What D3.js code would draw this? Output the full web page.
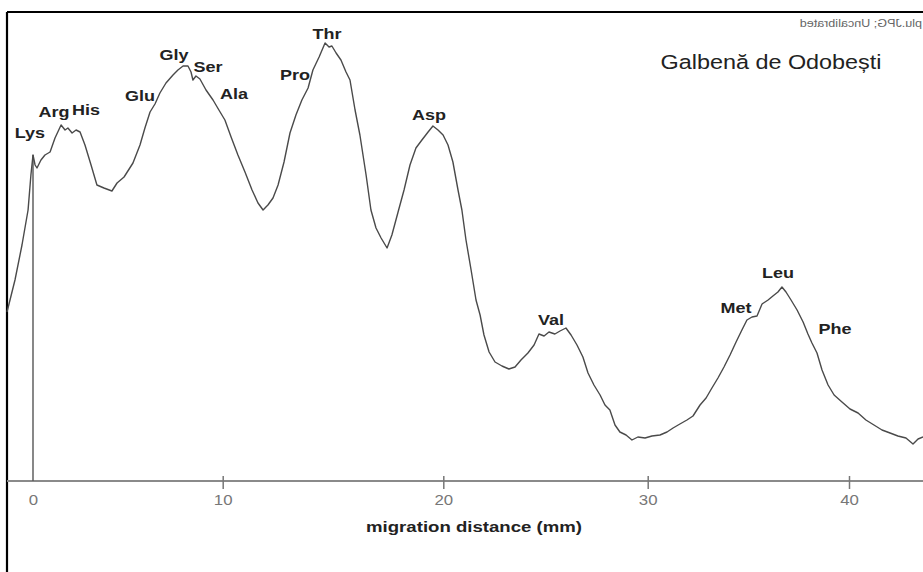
<!DOCTYPE html>
<html>
<head>
<meta charset="utf-8">
<script src="https://cdn.jsdelivr.net/npm/d3@7"></script>
<style>
body { margin: 0; background: #fff; }
svg { display: block; }
</style>
</head>
<body>
<svg class="densitogram"></svg>
<script>
// migration distance (mm) and density (arbitrary units)
var distance = [
  -1.37, -0.95, -0.58, -0.26, -0.11, 0, 0.11, 0.21, 0.42, 0.63,
  0.90, 1.16, 1.48, 1.69, 1.84, 2.06, 2.27, 2.48, 2.74, 3.06,
  3.37, 3.74, 4.16, 4.43, 4.80, 5.27, 5.64, 5.90, 6.17, 6.43,
  6.69, 7.01, 7.38, 7.64, 7.91, 8.17, 8.33, 8.43, 8.59, 8.80,
  9.12, 9.49, 9.80, 10.10, 10.38, 10.69, 11.01, 11.33, 11.60, 11.83,
  12.05, 12.28, 12.51, 12.78, 13.05, 13.32, 13.59, 13.87, 14.09, 14.37,
  14.64, 14.82, 14.95, 15.14, 15.36, 15.59, 15.77, 16.00, 16.22, 16.50,
  16.72, 16.95, 17.18, 17.45, 17.67, 17.95, 18.22, 18.49, 18.76, 19.03,
  19.31, 19.53, 19.76, 19.99, 20.23, 20.47, 20.72, 20.91, 21.11, 21.36,
  21.60, 21.80, 21.99, 22.24, 22.53, 22.87, 23.21, 23.51, 23.80, 24.14,
  24.44, 24.68, 24.93, 25.17, 25.46, 25.71, 26.00, 26.25, 26.54, 26.83,
  27.08, 27.37, 27.67, 27.91, 28.15, 28.40, 28.64, 28.94, 29.23, 29.52,
  29.87, 30.21, 30.61, 30.96, 31.26, 31.60, 31.95, 32.25, 32.60, 32.90,
  33.19, 33.49, 33.79, 34.09, 34.39, 34.68, 34.93, 35.18, 35.43, 35.68,
  35.98, 36.22, 36.47, 36.67, 36.87, 37.12, 37.42, 37.72, 37.96, 38.16,
  38.41, 38.66, 38.96, 39.26, 39.65, 40.05, 40.45, 40.84, 41.24, 41.64,
  42.04, 42.43, 42.83, 43.18, 43.43, 43.68
]
var density = [
  33.8, 40.2, 47.2, 54.2, 61.2, 65.2, 63.2, 62.6, 64.2, 65.2,
  65.8, 68.6, 71.2, 70.2, 70.6, 69.6, 70.2, 69.8, 67.2, 63.2,
  59.2, 58.6, 58.0, 59.6, 60.8, 63.6, 67.2, 70.6, 73.8, 75.4,
  77.6, 79.6, 81.2, 82.2, 83.0, 83.0, 81.8, 80.2, 81.0, 80.4,
  78.2, 76.2, 74.2, 72.2, 68.8, 65.2, 61.8, 58.2, 55.6, 54.2,
  55.2, 56.6, 59.2, 63.8, 69.6, 73.2, 76.2, 78.6, 82.2, 84.8,
  87.6, 86.8, 87.0, 85.6, 84.2, 81.8, 80.2, 74.2, 69.2, 61.2,
  54.2, 50.6, 48.6, 46.6, 49.2, 53.8, 58.2, 63.2, 66.6, 68.2,
  69.8, 71.0, 70.2, 69.2, 67.2, 63.8, 58.2, 54.2, 48.2, 42.2,
  36.2, 33.2, 29.2, 25.8, 23.8, 23.0, 22.4, 22.8, 24.2, 25.6,
  27.2, 29.4, 29.0, 29.8, 29.4, 30.0, 30.6, 29.2, 27.2, 24.8,
  21.6, 19.2, 17.2, 15.2, 14.2, 11.2, 9.8, 9.2, 8.2, 8.8,
  8.6, 9.0, 9.2, 9.8, 10.6, 11.4, 12.2, 13.0, 15.2, 16.6,
  18.6, 20.6, 22.8, 25.2, 27.8, 30.2, 32.2, 32.8, 33.0, 35.4,
  36.2, 37.0, 37.8, 38.8, 37.8, 36.2, 34.2, 31.8, 29.4, 27.6,
  25.6, 22.2, 19.2, 17.2, 15.8, 14.4, 13.6, 12.2, 11.2, 10.2,
  9.6, 9.0, 8.6, 7.4, 8.4, 8.8
]

var aminoAcids = ["Lys", "Arg", "His", "Glu", "Gly", "Ser", "Ala", "Pro", "Thr", "Asp", "Val", "Met", "Leu", "Phe"]
var labelDistance = [-0.16, 1.11, 2.79, 5.64, 7.43, 9.22, 10.51, 13.28, 14.73, 19.35, 25.27, 34.39, 36.47, 39.30]
var labelDensity = [68.6, 72.8, 73.2, 76.0, 84.2, 81.8, 76.4, 80.2, 88.4, 72.2, 31.2, 33.6, 40.6, 29.4]

var tickValues = [0, 10, 20, 30, 40]
var startMarker = [0]

var sampleName = "Galbenă de Odobești"
var fileNote = "plu.JPG; Uncalibrated"
var xTitle = "migration distance (mm)"

var width = 923
var height = 572
var frame = {left: 7, top: 12}
var axisY = 481
var font = "Arial, 'Liberation Sans', sans-serif"
var stretch = 1.2   // the scan is a little wider than tall, text included

var data = distance.map(function(d, i) { return {dist: d, dens: density[i]} })

// the scanned axis is not quite even, so the scale follows the printed ticks
var x = d3.scaleLinear()
    .domain(tickValues)
    .range([33, 222.7, 443.3, 647.7, 849])

var y = d3.scaleLinear()
    .domain([0, 94])
    .range([axisY, 11])

var line = d3.line()
    .x(function(d) { return x(d.dist) })
    .y(function(d) { return y(d.dens) })

var svg = d3.select(".densitogram")
    .attr("width", width)
    .attr("height", height)
    .style("font-family", font)

svg.append("rect")
    .attr("width", width)
    .attr("height", height)
    .attr("fill", "#fff")

// frame
svg.append("line")
    .attr("x1", frame.left).attr("x2", width)
    .attr("y1", frame.top).attr("y2", frame.top)
    .attr("stroke", "#000")
    .attr("stroke-width", 2.2)

svg.append("line")
    .attr("x1", frame.left).attr("x2", frame.left)
    .attr("y1", frame.top).attr("y2", height)
    .attr("stroke", "#000")
    .attr("stroke-width", 2.2)

// mirrored file note, top right
svg.append("g")
    .attr("transform", `translate(${width - 1},27) scale(${-stretch},1)`)
  .append("text")
    .attr("font-size", 10.5)
    .attr("fill", "#666")
    .text(fileNote)

// x axis
svg.append("line")
    .attr("x1", frame.left).attr("x2", width)
    .attr("y1", axisY).attr("y2", axisY)
    .attr("stroke", "#8a8a8a")
    .attr("stroke-width", 2)

var xAxis = svg.append("g")
    .attr("transform", `translate(0,${axisY})`)
    .call(d3.axisBottom(x).tickValues(tickValues).tickSize(8).tickPadding(6).tickFormat(d3.format("d")))

xAxis.select(".domain").remove()
xAxis.selectAll(".tick line")
    .attr("y1", -5)
    .attr("stroke", "#777")
    .attr("stroke-width", 1.5)
xAxis.selectAll(".tick").filter(function(d) { return d === 0 }).select("line").remove()
xAxis.selectAll(".tick text")
    .attr("fill", "#777")
    .attr("font-size", 14)
    .attr("font-family", font)
    .attr("transform", `scale(${stretch},1)`)

svg.append("text")
    .attr("transform", `translate(474,532) scale(${stretch},1)`)
    .attr("text-anchor", "middle")
    .attr("font-size", 15.5)
    .attr("font-weight", "bold")
    .attr("fill", "#222")
    .text(xTitle)

// start line at 0 mm
svg.selectAll(".start")
    .data(startMarker)
  .enter().append("line")
    .attr("class", "start")
    .attr("x1", function(d) { return x(d) })
    .attr("x2", function(d) { return x(d) })
    .attr("y1", y(0))
    .attr("y2", function(d) { return y(density[distance.indexOf(d)]) })
    .attr("stroke", "#555")
    .attr("stroke-width", 1.4)

// densitogram trace
svg.append("path")
    .datum(data)
    .attr("fill", "none")
    .attr("stroke", "#4a4a4a")
    .attr("stroke-width", 1.4)
    .attr("stroke-linejoin", "round")
    .attr("d", line)

// peak labels
svg.selectAll(".peak")
    .data(aminoAcids)
  .enter().append("text")
    .attr("class", "peak")
    .attr("transform", function(d, i) {
      return `translate(${x(labelDistance[i])},${y(labelDensity[i])}) scale(${stretch},1)`
    })
    .attr("text-anchor", "middle")
    .attr("font-size", 15)
    .attr("font-weight", "bold")
    .attr("fill", "#222")
    .text(function(d) { return d })

svg.append("text")
    .attr("transform", `translate(771,69) scale(${stretch},1)`)
    .attr("text-anchor", "middle")
    .attr("font-size", 19.5)
    .attr("fill", "#222")
    .text(sampleName)
</script>
</body>
</html>
